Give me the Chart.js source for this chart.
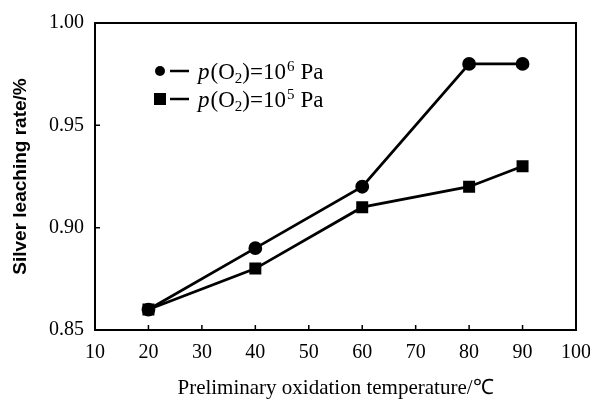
<!DOCTYPE html>
<html>
<head>
<meta charset="utf-8">
<script src="https://cdn.jsdelivr.net/npm/chart.js@4.4.0/dist/chart.umd.min.js"></script>
<style>
  html, body { margin: 0; padding: 0; background: #fff; }
  #box { width: 590px; height: 401px; }
</style>
</head>
<body>
<div id="box"><canvas id="graphe"></canvas></div>
<script>
// data
const temperatures = [20, 40, 60, 80, 90];
const rate_1e6 = [0.86, 0.89, 0.92, 0.98, 0.98];
const rate_1e5 = [0.86, 0.88, 0.91, 0.92, 0.93];
const xTicks = [10, 20, 30, 40, 50, 60, 70, 80, 90, 100];
const yTicks = [0.85, 0.90, 0.95, 1.00];
const legendExp = ["6", "5"];

const serif = "'Liberation Serif', 'Times New Roman', serif";

function toPoints(ys) {
    return temperatures.map((t, i) => ({ x: t, y: ys[i] }));
}

// box + inward ticks
const frame = {
    id: "frame",
    afterDraw(chart) {
        const ctx = chart.ctx, a = chart.chartArea;
        const xs = chart.scales.x, ys = chart.scales.y;
        ctx.save();
        ctx.strokeStyle = "#000";
        ctx.lineWidth = 2;
        ctx.strokeRect(a.left, a.top, a.right - a.left, a.bottom - a.top);
        ctx.lineWidth = 1.5;
        ctx.beginPath();
        xTicks.forEach(v => {
            let px = xs.getPixelForValue(v);
            ctx.moveTo(px, a.bottom);
            ctx.lineTo(px, a.bottom - 5);
        });
        yTicks.forEach(v => {
            let py = ys.getPixelForValue(v);
            ctx.moveTo(a.left, py);
            ctx.lineTo(a.left + 5, py);
        });
        ctx.stroke();
        ctx.restore();
    }
};

// legend with italic p, subscript and superscript
const legende = {
    id: "legende",
    afterDraw(chart) {
        const ctx = chart.ctx;
        ctx.save();
        ctx.fillStyle = "#000";
        ctx.strokeStyle = "#000";
        for (let i = 0; i < 2; i++) {
            let y = 71 + i * 28;
            if (i === 0) {
                ctx.beginPath();
                ctx.arc(160, y, 5, 0, Math.PI * 2);
                ctx.fill();
            } else {
                ctx.fillRect(154, y - 6, 12, 12);
            }
            ctx.lineWidth = 2.5;
            ctx.beginPath();
            ctx.moveTo(170, y);
            ctx.lineTo(189, y);
            ctx.stroke();

            let x = 198, base = y + 8;
            ctx.textBaseline = "alphabetic";
            ctx.textAlign = "left";
            ctx.font = "italic 23px " + serif;
            ctx.fillText("p", x, base);
            x += ctx.measureText("p").width + 1;
            ctx.font = "23px " + serif;
            ctx.fillText("(O", x, base);
            x += ctx.measureText("(O").width;
            ctx.font = "15px " + serif;
            ctx.fillText("2", x, base + 4);
            x += ctx.measureText("2").width;
            ctx.font = "23px " + serif;
            ctx.fillText(")=10", x, base);
            x += ctx.measureText(")=10").width + 1;
            ctx.font = "15px " + serif;
            ctx.fillText(legendExp[i], x, base - 8);
            x += ctx.measureText(legendExp[i]).width + 6;
            ctx.font = "23px " + serif;
            ctx.fillText("Pa", x, base);
        }
        ctx.restore();
    }
};

new Chart(document.getElementById("graphe"), {
    type: "line",
    data: {
        datasets: [
            {
                label: "p(O2)=10^6 Pa",
                data: toPoints(rate_1e6),
                borderColor: "#000",
                backgroundColor: "#000",
                borderWidth: 2.8,
                pointStyle: "circle",
                pointRadius: 5.5,
                pointHoverRadius: 5.5
            },
            {
                label: "p(O2)=10^5 Pa",
                data: toPoints(rate_1e5),
                borderColor: "#000",
                backgroundColor: "#000",
                borderWidth: 2.8,
                pointStyle: "rect",
                pointRadius: 6.5,
                pointHoverRadius: 6.5
            }
        ]
    },
    options: {
        responsive: true,
        maintainAspectRatio: false,
        animation: false,
        layout: { padding: { top: 20, right: 14, left: 0, bottom: 0 } },
        plugins: {
            legend: { display: false },
            tooltip: { enabled: false }
        },
        scales: {
            x: {
                type: "linear",
                min: 10,
                max: 100,
                afterBuildTicks: s => { s.ticks = xTicks.map(v => ({ value: v })); },
                afterFit: s => { s.height = 71; s.paddingRight = 0; s.paddingLeft = 0; },
                grid: { display: false, drawTicks: false },
                border: { display: false },
                ticks: {
                    color: "#000",
                    padding: 11,
                    maxRotation: 0,
                    font: { family: serif, size: 20 }
                },
                title: {
                    display: true,
                    text: "Preliminary oxidation temperature/\u2103",
                    color: "#000",
                    padding: { top: 5, bottom: 0 },
                    font: { family: serif, size: 21 }
                }
            },
            y: {
                min: 0.85,
                max: 1.00,
                afterBuildTicks: s => { s.ticks = yTicks.map(v => ({ value: v })); },
                afterFit: s => { s.width = 95; },
                grid: { display: false, drawTicks: false },
                border: { display: false },
                ticks: {
                    color: "#000",
                    padding: 11,
                    font: { family: serif, size: 20 },
                    callback: v => v.toFixed(2)
                },
                title: {
                    display: true,
                    text: "Silver leaching rate/%",
                    color: "#000",
                    padding: { top: 9, bottom: 4 },
                    font: { family: "'Liberation Sans', Arial, sans-serif", size: 19, weight: "bold" }
                }
            }
        }
    },
    plugins: [frame, legende]
});
</script>
</body>
</html>
